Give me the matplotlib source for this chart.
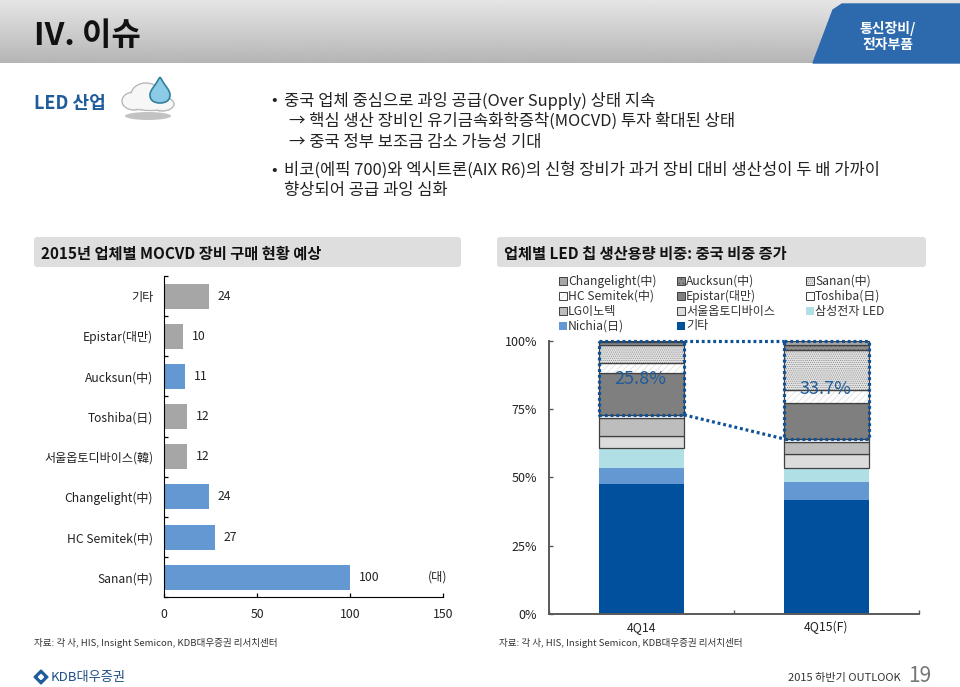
import matplotlib
matplotlib.use('Agg')
import matplotlib.pyplot as plt
import numpy as np
from matplotlib.patches import Rectangle, FancyBboxPatch, Polygon, Ellipse, PathPatch
from matplotlib.path import Path

plt.rcParams['font.family'] = ['Noto Sans CJK KR', 'DejaVu Sans']
plt.rcParams['hatch.linewidth'] = 0.5

W, H = 960, 687

# left chart data
vendors = ['기타', 'Epistar(대만)', 'Aucksun(中)', 'Toshiba(日)', '서울옵토디바이스(韓)',
           'Changelight(中)', 'HC Semitek(中)', 'Sanan(中)']
units = [24, 10, 11, 12, 12, 24, 27, 100]
is_china = [False, False, True, False, False, True, True, True]

# right chart data, bottom segment first
quarters = ['4Q14', '4Q15(F)']
seg_names = ['기타', 'Nichia(日)', '삼성전자 LED', '서울옵토디바이스', 'LG이노텍', 'Toshiba(日)',
             'Epistar(대만)', 'HC Semitek(中)', 'Sanan(中)', 'Aucksun(中)', 'Changelight(中)']
share_4q14 = [47.4, 6.1, 7.1, 4.7, 6.3, 1.3, 15.2, 3.7, 6.7, 1.0, 0.5]
share_4q15 = [41.6, 6.7, 5.2, 4.9, 4.7, 1.0, 13.0, 4.9, 14.7, 1.8, 1.5]
china_share = ['25.8%', '33.7%']
china_label_y = [86.1, 82.4]
seg_colors = ['#00509d', '#6398d2', '#b0dfe5', '#dcdcdc', '#bdbdbd', '#ffffff',
              '#7f7f7f', '#ffffff', '#e4e4e4', '#8c8c8c', '#a6a6a6']
seg_hatch = [None, None, None, None, None, None, None, '/////', '........', '....', None]
seg_hatch_col = ['none', 'none', 'none', 'none', 'none', 'none', 'none', '#dcdcdc', '#8a8a8a', '#505050', 'none']
seg_edge = [False, False, False, True, True, True, True, True, True, True, True]
legend_order = ['Changelight(中)', 'Aucksun(中)', 'Sanan(中)',
                'HC Semitek(中)', 'Epistar(대만)', 'Toshiba(日)',
                'LG이노텍', '서울옵토디바이스', '삼성전자 LED',
                'Nichia(日)', '기타']

fig = plt.figure(figsize=(9.6, 6.87), dpi=100)


def px_axes(x0, y0, x1, y1):
    return fig.add_axes([x0 / W, 1 - y1 / H, (x1 - x0) / W, (y1 - y0) / H])


# page decoration in pixel coordinates
bg = fig.add_axes([0, 0, 1, 1])
bg.set_xlim(0, W)
bg.set_ylim(H, 0)
bg.axis('off')

grad = np.linspace(0.90, 0.71, 64).reshape(-1, 1)
bg.imshow(grad, extent=[0, W, 63, 0], cmap='gray', vmin=0, vmax=1, aspect='auto', zorder=0)
bg.set_xlim(0, W)
bg.set_ylim(H, 0)
bg.add_patch(Polygon([[813, 63], [833, 10], [842, 4], [960, 4], [960, 63]], color='#2d69ad', zorder=1))
bg.text(888, 29, '통신장비/', color='white', fontsize=10, fontweight='bold', ha='center', va='center')
bg.text(888, 45, '전자부품', color='white', fontsize=10, fontweight='bold', ha='center', va='center')
bg.text(34, 36, 'IV. 이슈', color='#111111', fontsize=23, fontweight='bold', ha='left', va='center')

bg.text(34, 103, 'LED 산업', color='#1f5c99', fontsize=13, fontweight='bold', ha='left', va='center')
# cloud with drop
bg.add_patch(Ellipse((148, 116), 46, 8, color='#b5b5b5', alpha=0.8, lw=0))
for cx, cy, w, h in [(134, 101, 24, 18), (146, 95, 30, 24), (162, 104, 24, 14), (150, 104, 42, 13)]:
    bg.add_patch(Ellipse((cx, cy), w, h, fc='#f4f4f4', ec='#b8b8b8', lw=1))
for cx, cy, w, h in [(134, 101, 22, 16), (146, 95, 28, 22), (162, 104, 22, 12), (150, 104, 40, 11)]:
    bg.add_patch(Ellipse((cx, cy), w, h, fc='#f7f7f7', ec='none'))
drop = Path([(160, 77), (165, 86), (170, 90), (170, 95), (170, 101), (165, 103), (160, 103),
             (155, 103), (150, 101), (150, 95), (150, 90), (155, 86), (160, 77)],
            [Path.MOVETO] + [Path.CURVE4] * 12)
bg.add_patch(PathPatch(drop, fc='#8ccbe6', ec='#2f7f9f', lw=1.2))

body = [(271, 101, '•'), (284, 101, '중국 업체 중심으로 과잉 공급(Over Supply) 상태 지속'),
        (289, 121, '→ 핵심 생산 장비인 유기금속화학증착(MOCVD) 투자 확대된 상태'),
        (289, 143, '→ 중국 정부 보조금 감소 가능성 기대'),
        (271, 170, '•'), (284, 170, '비코(에픽 700)와 엑시트론(AIX R6)의 신형 장비가 과거 장비 대비 생산성이 두 배 가까이'),
        (284, 190, '향상되어 공급 과잉 심화')]
for x, y, s in body:
    bg.text(x, y, s, fontsize=11.9, color='#222222', ha='left', va='center')

for x0, x1, title in [(34, 461, '2015년 업체별 MOCVD 장비 구매 현황 예상'),
                      (497, 926, '업체별 LED 칩 생산용량 비중: 중국 비중 증가')]:
    bg.add_patch(FancyBboxPatch((x0 + 3, 240), x1 - x0 - 6, 24, boxstyle='round,pad=3',
                                fc='#dedede', ec='none'))
    bg.text(x0 + 7, 254, title, fontsize=11, fontweight='bold', color='#111111', ha='left', va='center')

bg.text(34, 643, '자료: 각 사, HIS, Insight Semicon, KDB대우증권 리서치센터', fontsize=6.9, color='#333333', va='center')
bg.text(499, 643, '자료: 각 사, HIS, Insight Semicon, KDB대우증권 리서치센터', fontsize=6.9, color='#333333', va='center')
bg.add_patch(Polygon([[34, 677], [41, 670], [48, 677], [41, 684]], color='#1f5c99'))
bg.add_patch(Polygon([[38.5, 677], [41, 674.5], [43.5, 677], [41, 679.5]], color='white'))
bg.text(51, 677, 'KDB대우증권', fontsize=9.5, color='#1f4f86', fontweight='medium', va='center')
bg.text(901, 678, '2015 하반기 OUTLOOK', fontsize=8, color='#333333', ha='right', va='center')
bg.text(908, 676, '19', fontsize=15, color='#777777', fontweight='light', ha='left', va='center')

# left bar chart
ax = px_axes(164.3, 276, 443.3, 597.3)
ax.patch.set_alpha(0)
ypos = np.arange(len(vendors))
colors = ['#6398d2' if c else '#a6a6a6' for c in is_china]
ax.barh(ypos, units, height=0.62, color=colors)
for y, v in zip(ypos, units):
    ax.annotate(str(v), (v, y), xytext=(6.5, 0), textcoords='offset points',
                va='center', ha='left', fontsize=8.8, color='#222222')
ax.text(152, ypos[-1], '(대)', fontsize=8.8, color='#222222', ha='right', va='center')
ax.set_xlim(0, 150)
ax.set_ylim(len(vendors) - 0.5, -0.5)
ax.set_xticks([0, 50, 100, 150])
ax.set_yticks(np.arange(len(vendors) + 1) - 0.5)
ax.set_yticklabels([])
ax.set_yticks(ypos, minor=True)
ax.set_yticklabels(vendors, minor=True)
ax.tick_params(axis='y', which='major', direction='in', length=3, width=0.9)
ax.tick_params(axis='y', which='minor', length=0, pad=8, labelsize=8.7, labelcolor='#222222')
ax.tick_params(axis='x', direction='in', length=3, width=0.9, pad=7.5, labelsize=8.8, labelcolor='#222222')
for s in ['top', 'right']:
    ax.spines[s].set_visible(False)

# right stacked chart
ax2 = px_axes(549, 341, 919, 613.7)
ax2.patch.set_alpha(0)
xpos = np.arange(len(quarters))
bar_w = 0.46
shares = np.array([share_4q14, share_4q15])
bottom = np.zeros(len(quarters))
for i, name in enumerate(seg_names):
    vals = shares[:, i]
    ax2.bar(xpos, vals, bar_w, bottom=bottom, color=seg_colors[i], edgecolor=seg_hatch_col[i],
            hatch=seg_hatch[i], linewidth=0)
    if seg_edge[i]:
        ax2.bar(xpos, vals, bar_w, bottom=bottom, fill=False, edgecolor='#404040', linewidth=0.9)
    bottom = bottom + vals

# dotted boxes round the chinese makers
cum = np.cumsum(shares, axis=1)
box_low = cum[:, seg_names.index('LG이노텍') + 1]
dot = dict(color='#0f5298', lw=2.3, linestyle=(0, (0.9, 0.9)), zorder=5, clip_on=False)
for x, low, lab, ly in zip(xpos, box_low, china_share, china_label_y):
    l, r = x - bar_w / 2, x + bar_w / 2
    ax2.plot([l, r, r, l, l], [100, 100, low, low, 100], **dot)
    ax2.text(x - 0.005, ly, lab, color='#1f5c99', fontsize=13, ha='center', va='center', zorder=6)
ax2.plot([bar_w / 2, 1 - bar_w / 2], [100, 100], **dot)
ax2.plot([bar_w / 2, 1 - bar_w / 2], [box_low[0], box_low[1]], **dot)

ax2.set_xlim(-0.5, 1.5)
ax2.set_ylim(0, 100)
ax2.set_yticks([0, 25, 50, 75, 100])
ax2.set_yticklabels(['0%', '25%', '50%', '75%', '100%'])
ax2.set_xticks([-0.5, 0.5, 1.5])
ax2.set_xticklabels([])
ax2.set_xticks(xpos, minor=True)
ax2.set_xticklabels(quarters, minor=True)
ax2.tick_params(axis='y', direction='in', length=3, width=1, color='#595959', pad=8.5, labelsize=9, labelcolor='#222222')
ax2.tick_params(axis='x', which='major', direction='in', length=3, width=1, color='#595959')
ax2.tick_params(axis='x', which='minor', length=0, pad=5, labelsize=8.8, labelcolor='#222222')
for s in ['top', 'right']:
    ax2.spines[s].set_visible(False)
for s in ['left', 'bottom']:
    ax2.spines[s].set_color('#595959')
    ax2.spines[s].set_linewidth(1.4)

# legend
col_x = [559, 677, 806]
row_y = [281, 296, 311, 326]
for k, name in enumerate(legend_order):
    i = seg_names.index(name)
    x, y = col_x[k % 3], row_y[k // 3]
    bg.add_patch(Rectangle((x, y - 4), 8, 8, fc=seg_colors[i], hatch=seg_hatch[i],
                           ec=seg_hatch_col[i] if seg_hatch[i] else seg_colors[i], lw=0))
    if seg_edge[i]:
        bg.add_patch(Rectangle((x, y - 4), 8, 8, fill=False, ec='#404040', lw=0.7))
    bg.text(x + 9, y, name, fontsize=8.7, color='#333333', ha='left', va='center')

fig.savefig('out.png', dpi=100)
